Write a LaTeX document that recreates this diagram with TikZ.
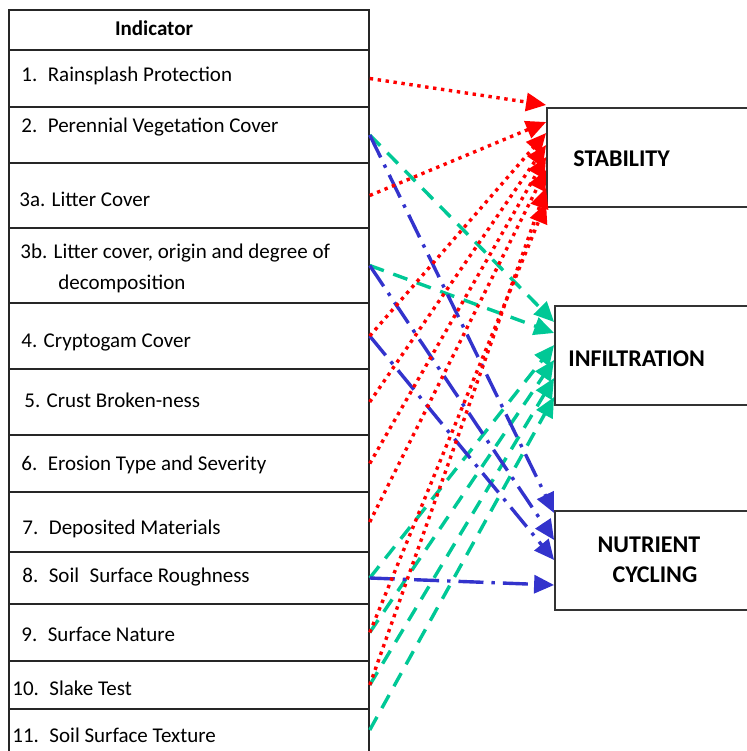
\documentclass[tikz,border=0pt]{standalone}
\usepackage{fontspec}
\setmainfont{Carlito}
\usetikzlibrary{arrows.meta}
\definecolor{stabred}{RGB}{255,0,0}
\definecolor{infgreen}{RGB}{0,200,150}
\definecolor{nutblue}{RGB}{51,51,204}
\tikzset{
  rowbox/.style={draw=black!85, line width=0.75pt, minimum width=180pt, inner sep=0pt},
  goalbox/.style={draw=black!80, line width=0.9pt, minimum height=49.5pt, inner sep=0pt},
  itemtext/.style={anchor=base west, inner sep=0pt, font=\fontsize{10.5}{12.6}\selectfont},
  headtext/.style={inner sep=0pt, font=\fontsize{12}{15}\selectfont\bfseries},
  tipstyle/.style={-{Triangle[length=10pt,width=9pt]}, line width=1.7pt},
  stabarrow/.style={tipstyle, stabred, dash pattern=on 1.7pt off 2.3pt},
  infarrow/.style={tipstyle, infgreen, dash pattern=on 7.5pt off 5pt},
  nutarrow/.style={tipstyle, nutblue, dash pattern=on 12.5pt off 4pt on 1.7pt off 4pt}
}
\begin{document}
\begin{tikzpicture}[x=0.5pt,y=-0.5pt]
        \useasboundingbox (0,0) rectangle (747,751);
        \clip (0,0) rectangle (747,751);
        % indicator table
        \foreach \nm/\ytop/\ybot in {r0/10/50, r1/50/107, r2/107/163, r3a/163/228, r3b/228/303,
            r4/303/369, r5/369/435, r6/435/492, r7/492/552, r8/552/604, r9/604/661,
            r10/661/709, r11/709/770}{
          \pgfmathsetmacro\rowh{(\ybot-\ytop)/2}
          \node[rowbox, minimum height=\rowh pt] (\nm) at (189,{(\ytop+\ybot)/2}) {};
        }
        \node[itemtext, anchor=base, font=\fontsize{10.5}{12.6}\selectfont\bfseries] (t0) at (154,35) {Indicator};
        \node[itemtext] (t1) at (21,81) {1.\enspace Rainsplash Protection};
        \node[itemtext] (t2) at (21,132) {2.\enspace Perennial Vegetation Cover};
        \node[itemtext] (t3a) at (19,206) {3a. Litter Cover};
        \node[itemtext] (t3b) at (20,258) {3b. Litter cover, origin and degree of};
        \node[itemtext] (t3bb) at (58,289) {decomposition};
        \node[itemtext] (t4) at (21,347) {4. Cryptogam Cover};
        \node[itemtext] (t5) at (24,407) {5. Crust Broken-ness};
        \node[itemtext] (t6) at (21,470) {6.\enspace Erosion Type and Severity};
        \node[itemtext] (t7) at (22,534) {7.\enspace Deposited Materials};
        \node[itemtext] (t8) at (22,582) {8.\enspace Soil\enspace Surface Roughness};
        \node[itemtext] (t9) at (21,641) {9.\enspace Surface Nature};
        \node[itemtext] (t10) at (12,695) {10.\enspace Slake Test};
        \node[itemtext] (t11) at (12,742) {11.\enspace Soil Surface Texture};

        % functions
        \node[goalbox, minimum width=106.5pt] (stab) at (653.5,157.5) {};
        \node[goalbox, minimum width=102.5pt] (infil) at (657.5,355.5) {};
        \node[goalbox, minimum width=102.5pt] (nutr) at (657.5,560.5) {};
        \node[headtext, anchor=base west] (tstab) at (573,166) {STABILITY};
        \node[headtext, anchor=base west] (tinfil) at (568,366) {INFILTRATION};
        \node[headtext, align=center] (tnutr) at (649,560) {NUTRIENT\\\hspace{6pt}CYCLING};

        % infiltration
        \draw[infarrow] (r2.east) -- ([yshift=16.75pt]infil.west);
        \draw[infarrow] (r3b.east) -- ([yshift=11.25pt]infil.west);
        \draw[infarrow] (r8.east) -- ([yshift=5.25pt]infil.west);
        \draw[infarrow] (r9.east) -- ([yshift=-2.25pt]infil.west);
        \draw[infarrow] (r10.east) -- ([yshift=-11.25pt]infil.west);
        \draw[infarrow] ([yshift=4.75pt]r11.east) -- ([yshift=-20.75pt]infil.west);
        % nutrient cycling
        \draw[nutarrow] (r2.east) -- ([yshift=23.75pt]nutr.west);
        \draw[nutarrow] (r3b.east) -- ([yshift=10.25pt]nutr.west);
        \draw[nutarrow] (r4.east) -- ([yshift=0.25pt]nutr.west);
        \draw[nutarrow] (r8.east) -- ([yshift=-12.25pt]nutr.west);
        % stability
        \draw[stabarrow] (r1.east) -- ([yshift=26.25pt]stab.west);
        \draw[stabarrow] (r3a.east) -- ([yshift=17.75pt]stab.west);
        \draw[stabarrow] (r4.east) -- ([yshift=12.25pt]stab.west);
        \draw[stabarrow] (r5.east) -- ([yshift=6.25pt]stab.west);
        \draw[stabarrow] (r6.east) -- ([yshift=0.25pt]stab.west);
        \draw[stabarrow] (r7.east) -- ([yshift=-6.25pt]stab.west);
        \draw[stabarrow] (r10.east) -- ([yshift=-15.25pt]stab.west);
        \draw[stabarrow] (r9.east) -- ([yshift=-22.75pt]stab.west);

      \end{tikzpicture}
\end{document}
